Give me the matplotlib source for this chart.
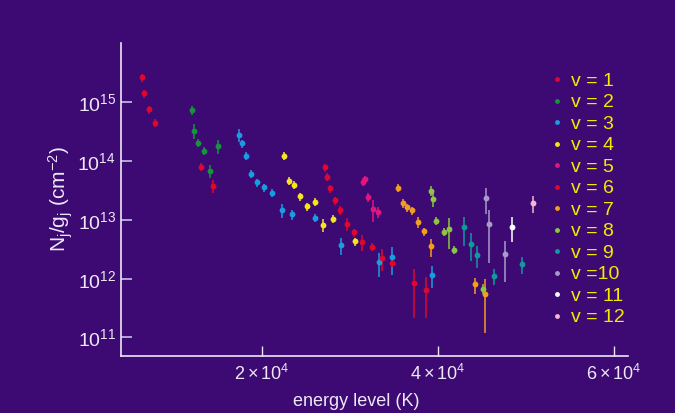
import numpy as np
import matplotlib
matplotlib.use("Agg")
import matplotlib.pyplot as plt
from matplotlib.lines import Line2D

# ---------------------------------------------------------------- datos
# energia del nivel (K), densidad de columna N_j/g_j (cm^-2) y error relativo
e1 = [6380, 6675, 7210, 7855, 13110, 14510]
n1 = [2.66e15, 1.42e15, 7.6e14, 4.5e14, 8.0e13, 3.8e13]
s1 = [0.16, 0.16, 0.16, 0.16, 0.16, 0.24]

e2 = [12050, 12350, 12800, 13450, 15070, 14170]
n2 = [7.4e14, 3.3e14, 2.06e14, 1.49e14, 1.81e14, 6.9e13]
s2 = [0.16, 0.28, 0.16, 0.16, 0.28, 0.25]

e3 = [17390, 17730, 18180, 18750, 19430, 20300, 21200, 22270, 23460, 26050,
      29000, 33280, 34790, 39330]
n3 = [2.78e14, 2.01e14, 1.24e14, 6.1e13, 4.36e13, 3.58e13, 2.90e13, 1.47e13,
      1.25e13, 1.08e13, 3.74e12, 1.90e12, 2.31e12, 1.17e12]
s3 = [0.25, 0.16, 0.16, 0.16, 0.16, 0.16, 0.16, 0.26, 0.2, 0.16,
      0.33, 0.44, 0.5, 0.41]

e4 = [22530, 23130, 23670, 24350, 25180, 26050, 26990, 28130, 30590]
n4 = [1.24e14, 4.65e13, 3.93e13, 2.52e13, 1.70e13, 2.04e13, 8.3e12, 1.04e13, 4.33e12]
s4 = [0.16, 0.16, 0.16, 0.16, 0.16, 0.16, 0.24, 0.16, 0.16]

e5 = [31530, 31760, 32100, 32630, 33170]
n5 = [4.47e13, 4.9e13, 2.45e13, 1.55e13, 1.36e13]
s5 = [0.16, 0.16, 0.16, 0.40, 0.22]

e6 = [27180, 27410, 27790, 28290, 28890, 29650, 30510, 31420, 32490, 33650,
      34750, 37320, 38680]
n6 = [7.85e13, 5.37e13, 3.44e13, 2.15e13, 1.47e13, 8.6e12, 6.15e12, 4.2e12,
      3.5e12, 2.28e12, 1.85e12, 8.5e11, 6.36e11]
s6 = [0.16, 0.16, 0.16, 0.16, 0.16, 0.24, 0.16, 0.3, 0.16, 0.4,
      0.16, 0.75, 0.66]

e7 = [35470, 36000, 36550, 37090, 37710, 38420, 39220, 44210, 45310]
n7 = [3.49e13, 1.92e13, 1.64e13, 1.45e13, 9.3e12, 6.4e12, 3.56e12, 8.0e11, 5.5e11]
s7 = [0.16, 0.16, 0.16, 0.16, 0.22, 0.16, 0.33, 0.3, 0.78]

e8 = [39180, 39480, 39750, 40660, 41290, 41860, 45150]
n8 = [3.13e13, 2.26e13, 9.7e12, 6.3e12, 6.92e12, 3.11e12, 6.8e11]
s8 = [0.19, 0.28, 0.16, 0.16, 0.54, 0.16, 0.2]

e9 = [43000, 43790, 44440, 46400, 49580]
n9 = [7.48e12, 3.94e12, 2.56e12, 1.12e12, 1.78e12]
s9 = [0.51, 0.5, 0.41, 0.315, 0.33]

e10 = [45460, 45830, 47610]
n10 = [2.39e13, 8.4e12, 2.63e12]
s10 = [0.48, 0.78, 0.67]

e11 = [48370]
n11 = [7.66e12]
s11 = [0.46]

e12 = [50830]
n12 = [1.94e13]
s12 = [0.315]

etiquetas = ["v = 1", "v = 2", "v = 3", "v = 4", "v = 5", "v = 6", "v = 7",
             "v = 8", "v = 9", "v =10", "v = 11", "v = 12"]
colores = ["#e2062c", "#17923d", "#1a9de0", "#f5e61a", "#e2157f", "#e2062c",
           "#f29f1c", "#8dc63f", "#109a9c", "#a99bc9", "#ffffff", "#f4b6d2"]

series = [(e1, n1, s1), (e2, n2, s2), (e3, n3, s3), (e4, n4, s4),
          (e5, n5, s5), (e6, n6, s6), (e7, n7, s7), (e8, n8, s8),
          (e9, n9, s9), (e10, n10, s10), (e11, n11, s11), (e12, n12, s12)]

# ---------------------------------------------------------------- estilo
fondo = "#3c0a72"
blanco = "#eee8f6"
amarillo = "#f5e900"
plt.rcParams["font.family"] = ["Liberation Sans", "DejaVu Sans"]
plt.rcParams["mathtext.fontset"] = "custom"
plt.rcParams["mathtext.rm"] = "Liberation Sans"
plt.rcParams["mathtext.it"] = "Liberation Sans"
plt.rcParams["mathtext.default"] = "regular"

fig = plt.figure(figsize=(6.75, 4.13), dpi=100, facecolor=fondo)
ax = fig.add_axes([0.1793, 0.1387, 0.7506, 0.7572])
ax.set_facecolor(fondo)

# ---------------------------------------------------------------- graficas
for (e, n, s), c in zip(series, colores):
    n = np.array(n)
    err = n * np.array(s)
    ax.errorbar(e, n, yerr=err, fmt="o", color=c, ms=4.2, mew=0,
                elinewidth=1.1, capsize=2.4, capthick=1.1)

ax.set_yscale("log")
ax.set_xlim(4030, 61550)
ax.set_ylim(10**10.69, 10**16.01)
ax.set_xticks([2e4, 4e4, 6e4])
ax.set_xticklabels([r"$2\times10^4$", r"$4\times10^4$", r"$6\times10^4$"])
ax.set_yticks([1e11, 1e12, 1e13, 1e14, 1e15])
ax.set_yticklabels([r"$10^{11}$", r"$10^{12}$", r"$10^{13}$", r"$10^{14}$", r"$10^{15}$"])
ax.minorticks_off()

for lado in ["top", "right"]:
    ax.spines[lado].set_visible(False)
for lado in ["left", "bottom"]:
    ax.spines[lado].set_color(blanco)
    ax.spines[lado].set_linewidth(1.2)

ax.tick_params(axis="x", direction="in", length=7.5, width=1, color=blanco,
               labelcolor=blanco, labelsize=13, pad=6)
ax.tick_params(axis="y", direction="in", length=8, width=1.4, color="#b4a6d6",
               labelcolor=blanco, labelsize=14, pad=3.6)

ax.set_xlabel("energy level (K)", color=blanco, fontsize=13)
ax.xaxis.set_label_coords(0.464, -0.12)
ax.set_ylabel(r"N$_j$/g$_j$ (cm$^{-2}$)", color=blanco, fontsize=15, labelpad=2)

# leyenda
marcas = [Line2D([], [], ls="none", marker="o", ms=3.5, mew=0, color=c) for c in colores]
fig.legend(marcas, etiquetas, loc="upper left", bbox_to_anchor=(0.817, 0.825),
           frameon=False, fontsize=14, labelcolor=amarillo, handlelength=0.6,
           handletextpad=0.4, labelspacing=0.2, borderpad=0, borderaxespad=0)

fig.savefig("out.png", dpi=100, facecolor=fondo)
